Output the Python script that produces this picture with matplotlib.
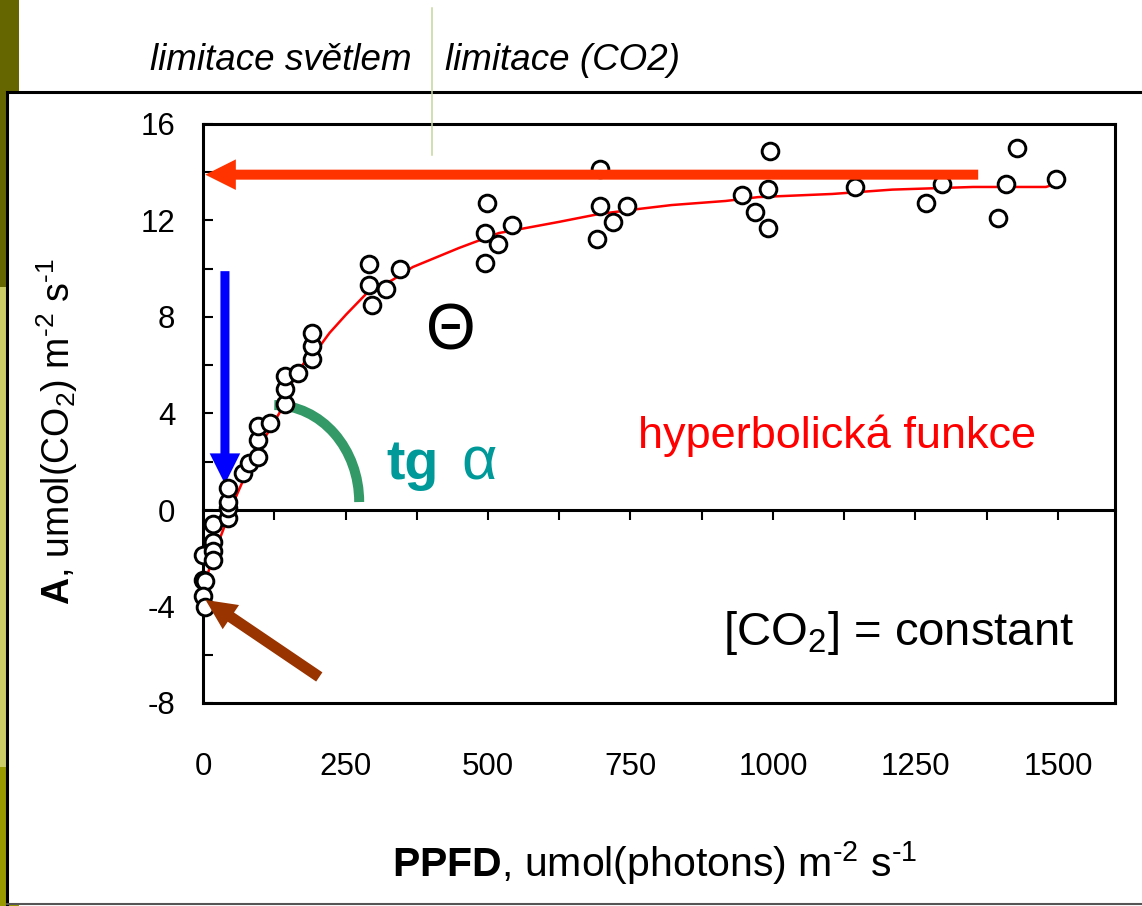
import matplotlib.pyplot as plt
from matplotlib.patches import Rectangle, Arc
from matplotlib.lines import Line2D

plt.rcParams['font.family'] = ['Liberation Sans', 'DejaVu Sans']
plt.rcParams['mathtext.fontset'] = 'custom'
plt.rcParams['mathtext.rm'] = 'Liberation Sans'
plt.rcParams['mathtext.it'] = 'Liberation Sans:italic'
plt.rcParams['mathtext.bf'] = 'Liberation Sans:bold'
plt.rcParams['axes.unicode_minus'] = False

PPFD = [0, 0, 3, 0, 3,
        17, 17, 17, 17,
        43, 43, 43, 43,
        71, 81, 96, 96, 96, 118,
        143, 143, 143, 167,
        192, 192, 192,
        292, 292, 321, 297, 346,
        498, 495, 518, 542, 495,
        696, 696, 743, 719, 691,
        945, 992, 969, 992, 994,
        1143, 1297, 1269,
        1428, 1409, 1395, 1497]
A = [-1.85, -2.9, -2.95, -3.55, -4.0,
     -0.58, -1.33, -1.7, -2.07,
     -0.33, 0.08, 0.33, 0.91,
     1.53, 1.95, 2.2, 2.9, 3.5, 3.6,
     4.4, 5.0, 5.55, 5.68,
     6.26, 6.8, 7.34,
     10.2, 9.33, 9.16, 8.5, 10.0,
     12.73, 11.48, 11.03, 11.81, 10.24,
     14.13, 12.6, 12.6, 11.94, 11.23,
     13.06, 13.3, 12.35, 11.69, 14.88,
     13.39, 13.5, 12.73,
     15.0, 13.5, 12.1, 13.72]

# fitted non-rectangular hyperbola
FIT_PPFD = [0, 7, 18, 35, 56, 76, 105, 134, 158, 178, 204, 222, 251, 292, 332,
            368, 449, 519, 624, 695, 765, 822, 917, 974, 1104, 1209, 1351,
            1479, 1497]
FIT_A = [-3.3, -2.75, -1.9, -0.85, 0.45, 1.53, 2.85, 4.02, 5.39, 6.13, 6.76,
         7.34, 8.1, 9.1, 9.53, 10.07, 10.86, 11.48, 11.94, 12.27, 12.48, 12.64,
         12.81, 12.97, 13.1, 13.28, 13.39, 13.39, 13.53]

X_TICKS = [0, 250, 500, 750, 1000, 1250, 1500]
X_MARKS = [125, 250, 375, 500, 625, 750, 875, 1000, 1125, 1250, 1375, 1500]
Y_TICKS = [-8, -4, 0, 4, 8, 12, 16]
Y_MINOR = [-6, -2, 2, 6, 10, 14]

W, H = 1142, 906


def fx(px):
    return px / W


def fy(py):
    return 1 - py / H


fig = plt.figure(figsize=(W / 100, H / 100), dpi=100)

# slide decoration: olive band on the left and the white frame
for top, bottom, col in [(0, 287, '#666600'), (287, 767, '#cccc66'),
                         (767, 906, '#999900')]:
    fig.add_artist(Rectangle((0, fy(bottom)), fx(19), (bottom - top) / H,
                             transform=fig.transFigure, color=col, lw=0,
                             zorder=0))
fig.add_artist(Rectangle((fx(7), fy(904)), 1, (904 - 92) / H,
                         transform=fig.transFigure, facecolor='white',
                         edgecolor='none', zorder=1))
fig.add_artist(Line2D([fx(7), 1], [fy(92), fy(92)], transform=fig.transFigure,
                      color='black', lw=2.2, zorder=2))
fig.add_artist(Line2D([fx(7), fx(7)], [fy(92), 0], transform=fig.transFigure,
                      color='black', lw=2.2, zorder=2))
fig.add_artist(Line2D([fx(7), 1], [fy(904), fy(904)], transform=fig.transFigure,
                      color='#555555', lw=1.5, zorder=2))
fig.add_artist(Line2D([fx(432), fx(432)], [fy(8), fy(155)],
                      transform=fig.transFigure, color='#c4d79b', lw=1.1,
                      zorder=6))

fig.text(fx(150), fy(70), 'limitace světlem', style='italic', fontsize=26.5,
         va='baseline', ha='left')
fig.text(fx(445), fy(70), 'limitace (CO2)', style='italic', fontsize=26.5,
         va='baseline', ha='left')

ax = fig.add_axes([fx(203), fy(703), (1115 - 203) / W, (703 - 124) / H])
ax.set_zorder(3)
ax.set_xlim(0, 1600)
ax.set_ylim(-8, 16)
for sp in ax.spines.values():
    sp.set_linewidth(2.2)

ax.set_xticks(X_TICKS)
ax.tick_params(axis='x', length=0, pad=35, labelsize=22.5)
ax.set_yticks(Y_TICKS)
ax.set_yticks(Y_MINOR, minor=True)
ax.tick_params(axis='y', which='both', direction='in', length=7.2, width=1.5,
               pad=20, labelsize=22.5)

# zero line with its own tick marks
sec = ax.secondary_xaxis(1 / 3)
sec.set_xticks(X_MARKS)
sec.tick_params(direction='out', length=7.2, width=1.5, labelbottom=False)
sec.spines['bottom'].set_linewidth(2.2)

ax.plot(FIT_PPFD, FIT_A, color='red', lw=1.8, zorder=3)
ax.plot(PPFD, A, 'o', ms=12, mfc='white', mec='black', mew=2.1,
        clip_on=False, zorder=4)

# light-saturated rate (red), dark respiration (brown), compensation (blue)
ax.annotate('', xy=(4, 13.9), xytext=(1360, 13.9),
            arrowprops=dict(arrowstyle='simple,head_length=2.2,head_width=2.2,'
                            'tail_width=0.72', mutation_scale=10,
                            color='#ff3300', lw=0, shrinkA=0, shrinkB=0),
            zorder=5)
ax.annotate('', xy=(38.5, 1.08), xytext=(38.5, 9.9),
            arrowprops=dict(arrowstyle='simple,head_length=2.2,head_width=2.2,'
                            'tail_width=0.65', mutation_scale=10,
                            color='#0000ff', lw=0, shrinkA=0, shrinkB=0),
            zorder=2)
ax.annotate('', xy=(4.5, -3.73), xytext=(204, -6.92),
            arrowprops=dict(arrowstyle='simple,head_length=2.2,head_width=2.1,'
                            'tail_width=0.8', mutation_scale=10,
                            color='#993300', lw=0, shrinkA=0, shrinkB=0),
            zorder=5)

ax.add_patch(Arc((125, 0.33), 298, 8.04, theta1=0, theta2=88,
                 color='#339966', lw=7.2, zorder=2))

ax.text(321, 1.28, 'tg', fontsize=40, fontweight='bold', color='#009999',
        va='baseline', ha='left')
ax.text(453, 1.28, 'α', fontsize=44, color='#009999', va='baseline',
        ha='left')
ax.text(435, 6.67, 'Θ', fontsize=46, va='baseline', ha='center')
ax.text(764, 2.57, 'hyperbolická funkce', fontsize=32.5, color='red',
        va='baseline', ha='left')
ax.text(913, -5.6, '[CO$_2$] = constant', fontsize=34, va='baseline',
        ha='left')

ax.set_xlabel(r'$\mathbf{PPFD}$, umol(photons) m$^{\text{-}2}$ s$^{\text{-}1}$',
              fontsize=29.5)
ax.xaxis.set_label_coords(0.4956, -0.3005)
ax.xaxis.label.set_va('baseline')
ax.set_ylabel(r'$\mathbf{A}$, umol(CO$_2$) m$^{\text{-}2}$ s$^{\text{-}1}$',
              fontsize=27)
ax.yaxis.set_label_coords(-0.1458, 0.468)
ax.yaxis.label.set_va('baseline')

fig.savefig('out.png', dpi=100)
